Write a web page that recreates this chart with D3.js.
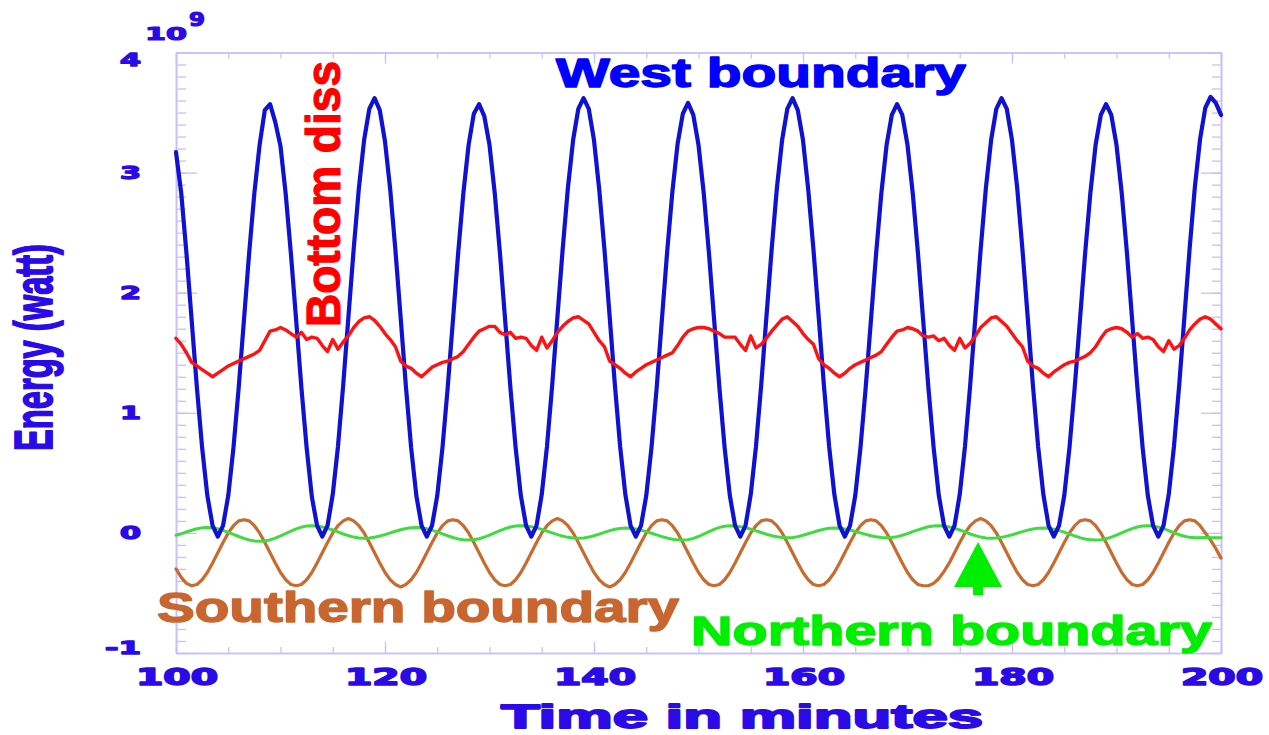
<!DOCTYPE html>
<html>
<head>
<meta charset="utf-8">
<script src="https://cdn.jsdelivr.net/npm/d3@7"></script>
<style>
  html, body { margin: 0; padding: 0; background: #fff; }
  svg { display: block; }
</style>
</head>
<body>
<svg id="chart" width="1269" height="735"></svg>
<script>
// Sampling grid: one sample every half minute from t = 100 to t = 200
const timeStart = 100;
const timeStep = 0.5;

// Energy flux through the west boundary (units of 1e9 W)
const westBoundary = [
  3.17, 2.83, 2.33, 1.77, 1.21, 0.71, 0.31, 0.06, -0.03,
  0.06, 0.31, 0.71, 1.21, 1.77, 2.33, 2.83, 3.23, 3.52, 3.57,
  3.42, 3.22, 2.82, 2.32, 1.77, 1.21, 0.71, 0.30, 0.06, -0.03,
  0.06, 0.32, 0.72, 1.23, 1.80, 2.36, 2.87, 3.27, 3.53, 3.62,
  3.52, 3.26, 2.86, 2.35, 1.79, 1.22, 0.71, 0.31, 0.06, -0.03,
  0.06, 0.31, 0.71, 1.21, 1.77, 2.33, 2.83, 3.23, 3.49, 3.57,
  3.47, 3.23, 2.83, 2.33, 1.77, 1.21, 0.71, 0.31, 0.06, -0.03,
  0.06, 0.32, 0.72, 1.23, 1.80, 2.36, 2.87, 3.27, 3.53, 3.62,
  3.53, 3.27, 2.86, 2.36, 1.80, 1.23, 0.72, 0.32, 0.06, -0.03,
  0.06, 0.31, 0.71, 1.21, 1.78, 2.34, 2.84, 3.24, 3.49, 3.58,
  3.48, 3.23, 2.83, 2.33, 1.77, 1.21, 0.71, 0.31, 0.06, -0.03,
  0.06, 0.32, 0.72, 1.23, 1.80, 2.36, 2.87, 3.27, 3.53, 3.62,
  3.52, 3.27, 2.86, 2.36, 1.80, 1.23, 0.72, 0.32, 0.06, -0.03,
  0.06, 0.31, 0.71, 1.21, 1.77, 2.33, 2.83, 3.23, 3.48, 3.57,
  3.48, 3.23, 2.83, 2.33, 1.77, 1.21, 0.71, 0.31, 0.06, -0.03,
  0.06, 0.32, 0.72, 1.23, 1.80, 2.36, 2.87, 3.27, 3.53, 3.62,
  3.53, 3.27, 2.87, 2.36, 1.80, 1.23, 0.72, 0.32, 0.06, -0.03,
  0.06, 0.31, 0.71, 1.21, 1.77, 2.33, 2.83, 3.23, 3.48, 3.57,
  3.48, 3.23, 2.83, 2.33, 1.77, 1.21, 0.71, 0.31, 0.06, -0.03,
  0.06, 0.32, 0.72, 1.23, 1.80, 2.37, 2.88, 3.28, 3.54, 3.63,
  3.58, 3.48
];

// Bottom dissipation
const bottomDiss = [
  1.62, 1.57, 1.50, 1.42, 1.39, 1.36, 1.33, 1.30, 1.33, 1.36,
  1.39, 1.41, 1.43, 1.45, 1.47, 1.49, 1.52, 1.60, 1.68, 1.69,
  1.71, 1.69, 1.66, 1.63, 1.67, 1.61, 1.63, 1.62, 1.56, 1.51,
  1.61, 1.53, 1.59, 1.64, 1.71, 1.76, 1.79, 1.80, 1.77, 1.72,
  1.66, 1.61, 1.55, 1.43, 1.39, 1.37, 1.33, 1.30, 1.34, 1.38,
  1.40, 1.42, 1.43, 1.45, 1.47, 1.51, 1.57, 1.63, 1.68, 1.70,
  1.72, 1.72, 1.67, 1.65, 1.67, 1.62, 1.63, 1.62, 1.56, 1.52,
  1.63, 1.54, 1.60, 1.67, 1.72, 1.76, 1.79, 1.80, 1.77, 1.74,
  1.67, 1.60, 1.55, 1.43, 1.40, 1.37, 1.33, 1.30, 1.34, 1.37,
  1.40, 1.42, 1.44, 1.46, 1.48, 1.50, 1.56, 1.63, 1.68, 1.70,
  1.71, 1.71, 1.70, 1.68, 1.66, 1.63, 1.63, 1.63, 1.57, 1.52,
  1.64, 1.54, 1.57, 1.62, 1.68, 1.73, 1.78, 1.80, 1.76, 1.72,
  1.66, 1.61, 1.57, 1.45, 1.40, 1.37, 1.33, 1.30, 1.33, 1.37,
  1.40, 1.42, 1.44, 1.46, 1.48, 1.51, 1.57, 1.63, 1.68, 1.69,
  1.71, 1.70, 1.68, 1.64, 1.63, 1.64, 1.60, 1.62, 1.56, 1.52,
  1.62, 1.54, 1.58, 1.64, 1.71, 1.75, 1.79, 1.80, 1.76, 1.72,
  1.66, 1.60, 1.55, 1.43, 1.39, 1.37, 1.33, 1.30, 1.34, 1.37,
  1.40, 1.42, 1.43, 1.45, 1.47, 1.50, 1.55, 1.62, 1.68, 1.70,
  1.71, 1.70, 1.67, 1.63, 1.66, 1.62, 1.63, 1.61, 1.55, 1.51,
  1.60, 1.53, 1.56, 1.62, 1.69, 1.74, 1.78, 1.80, 1.78, 1.74,
  1.70
];

// Flux through the southern boundary
const southernBoundary = [
  -0.30, -0.37, -0.42,
  -0.44, -0.43, -0.39, -0.33, -0.25, -0.165, -0.08, 0.00, 0.06, 0.10,
  0.11, 0.10, 0.06, 0.00, -0.08, -0.165, -0.25, -0.33, -0.39, -0.43,
  -0.44, -0.43, -0.39, -0.33, -0.25, -0.165, -0.08, 0.00, 0.06, 0.10,
  0.12, 0.10, 0.06, 0.00, -0.08, -0.165, -0.25, -0.33, -0.39, -0.43,
  -0.45, -0.43, -0.39, -0.33, -0.25, -0.165, -0.08, 0.00, 0.06, 0.10,
  0.11, 0.10, 0.06, 0.00, -0.08, -0.165, -0.25, -0.33, -0.39, -0.43,
  -0.44, -0.43, -0.39, -0.33, -0.25, -0.165, -0.08, 0.00, 0.06, 0.10,
  0.12, 0.10, 0.06, 0.00, -0.08, -0.165, -0.25, -0.33, -0.39, -0.43,
  -0.45, -0.43, -0.39, -0.33, -0.25, -0.165, -0.08, 0.00, 0.06, 0.10,
  0.11, 0.10, 0.06, 0.00, -0.08, -0.165, -0.25, -0.33, -0.39, -0.43,
  -0.44, -0.43, -0.39, -0.33, -0.25, -0.165, -0.08, 0.00, 0.06, 0.10,
  0.11, 0.10, 0.06, 0.00, -0.08, -0.165, -0.25, -0.33, -0.39, -0.43,
  -0.44, -0.43, -0.39, -0.33, -0.25, -0.165, -0.08, 0.00, 0.06, 0.10,
  0.11, 0.10, 0.06, 0.00, -0.08, -0.165, -0.25, -0.33, -0.39, -0.43,
  -0.44, -0.44, -0.42, -0.38, -0.32, -0.25, -0.165, -0.08, 0.00, 0.06,
  0.10, 0.12, 0.10, 0.06, 0.00, -0.08, -0.165, -0.25, -0.33, -0.39,
  -0.43, -0.44, -0.43, -0.39, -0.33, -0.25, -0.165, -0.08, 0.00, 0.06,
  0.10, 0.11, 0.10, 0.06, 0.00, -0.08, -0.165, -0.25, -0.33, -0.39,
  -0.43, -0.44, -0.43, -0.39, -0.33, -0.25, -0.165, -0.08, 0.00, 0.06,
  0.10, 0.11, 0.10, 0.06, 0.00, -0.06, -0.13, -0.21
];

// Flux through the northern boundary
const northernBoundary = [
  -0.020, -0.008, 0.008, 0.022, 0.034, 0.042, 0.045,
  0.042, 0.034, 0.021, 0.005, -0.012, -0.030, -0.046, -0.059, -0.067, -0.070,
  -0.067, -0.058, -0.043, -0.025, -0.005, 0.015, 0.033, 0.048, 0.057, 0.060,
  0.057, 0.050, 0.038, 0.024, 0.008, -0.009, -0.023, -0.035, -0.042, -0.045,
  -0.043, -0.036, -0.026, -0.014, 0.000, 0.014, 0.026, 0.036, 0.043, 0.045,
  0.042, 0.035, 0.023, 0.009, -0.008, -0.024, -0.038, -0.050, -0.057, -0.060,
  -0.057, -0.049, -0.035, -0.019, 0.000, 0.019, 0.035, 0.049, 0.057, 0.060,
  0.058, 0.052, 0.042, 0.029, 0.015, 0.000, -0.014, -0.027, -0.037, -0.043, -0.045,
  -0.042, -0.035, -0.024, -0.010, 0.005, 0.019, 0.030, 0.037, 0.040,
  0.038, 0.032, 0.023, 0.011, -0.003, -0.017, -0.031, -0.043, -0.052, -0.058, -0.060,
  -0.056, -0.046, -0.030, -0.010, 0.010, 0.030, 0.046, 0.056, 0.060,
  0.058, 0.052, 0.043, 0.031, 0.017, 0.003, -0.011, -0.023, -0.032, -0.038, -0.040,
  -0.038, -0.031, -0.020, -0.007, 0.007, 0.020, 0.031, 0.038, 0.040,
  0.038, 0.032, 0.024, 0.012, 0.000, -0.012, -0.024, -0.032, -0.038, -0.040,
  -0.038, -0.031, -0.019, -0.006, 0.010, 0.025, 0.039, 0.051, 0.058, 0.060,
  0.057, 0.050, 0.038, 0.024, 0.008, -0.009, -0.023, -0.035, -0.042, -0.045,
  -0.043, -0.037, -0.027, -0.016, -0.003, 0.011, 0.023, 0.032, 0.038, 0.040,
  0.038, 0.031, 0.019, 0.006, -0.010, -0.025, -0.039, -0.051, -0.058, -0.060,
  -0.057, -0.049, -0.035, -0.019, 0.000, 0.019, 0.035, 0.049, 0.057, 0.060,
  0.057, 0.048, 0.035, 0.019, 0.001, -0.015, -0.028, -0.037, -0.040,
  -0.040, -0.039, -0.040, -0.041, -0.040
];

// Axis ticks and labels
const xMajorTicks = [100, 120, 140, 160, 180, 200];
const xTickLabels = ["100", "120", "140", "160", "180", "200"];
const xMinorStep = 5;
const yMajorTicks = [-1, 0, 1, 2, 3, 4];
const yTickLabels = ["-1", "0", "1", "2", "3", "4"];
const yMinorStep = 0.1;

// Arrow marking the northern boundary curve (data units)
const arrowTip = { t: 176.75, e: -0.075 };
const arrowHeadBase = -0.45;
const arrowTail = -0.52;

// ---------------------------------------------------------------
const svg = d3.select("#chart");
svg.append("rect").attr("width", 1269).attr("height", 735).attr("fill", "#fff");

const plot = { left: 176, right: 1221, top: 52.5, bottom: 653 };
const x = d3.scaleLinear().domain([100, 200]).range([plot.left, plot.right]);
const y = d3.scaleLinear().domain([-1, 4]).range([plot.bottom, plot.top]);

const axisColor = "#c9c0fb";
const labelColor = "#2a0ae6";
const boldFont = "'Liberation Sans', Arial, sans-serif";
const digitFont = "'DejaVu Sans', sans-serif";

// Heavy lettering: fill plus a same-coloured outline
function heavy(sel, color, w) {
  return sel.attr("fill", color).attr("stroke", color)
    .attr("stroke-width", w).attr("stroke-linejoin", "round");
}

// Frame with inward ticks on all four sides
const xMinor = d3.range(100, 200 + 1e-9, xMinorStep);
const yMinor = d3.range(-1, 4 + 1e-9, yMinorStep).map(v => Math.round(v * 10) / 10);

function styleAxis(g) {
  g.selectAll("path").attr("stroke", axisColor).attr("stroke-width", 1.6);
  g.selectAll("line").attr("stroke", axisColor).attr("stroke-width", 1.3);
  g.selectAll("text").remove();
}

const axes = svg.append("g").attr("class", "axes");
[
  [d3.axisBottom(x).tickValues(xMinor).tickSize(-6), plot.bottom, "x"],
  [d3.axisBottom(x).tickValues(xMajorTicks).tickSize(-11), plot.bottom, "x"],
  [d3.axisTop(x).tickValues(xMinor).tickSize(-6), plot.top, "x"],
  [d3.axisTop(x).tickValues(xMajorTicks).tickSize(-11), plot.top, "x"],
  [d3.axisLeft(y).tickValues(yMinor).tickSize(-10), plot.left, "y"],
  [d3.axisLeft(y).tickValues(yMajorTicks).tickSize(-21), plot.left, "y"],
  [d3.axisRight(y).tickValues(yMinor).tickSize(-9), plot.right, "y"],
  [d3.axisRight(y).tickValues(yMajorTicks).tickSize(-20), plot.right, "y"]
].forEach(([axis, pos, dir]) => {
  axes.append("g")
    .attr("transform", dir === "x" ? `translate(0,${pos})` : `translate(${pos},0)`)
    .call(axis.tickFormat("").tickSizeOuter(0))
    .call(styleAxis);
});

// Series lines
const line = d3.line()
  .x((d, i) => x(timeStart + i * timeStep))
  .y(d => y(d));

const series = [
  { data: southernBoundary, color: "#c96a2e", width: 3.2 },
  { data: northernBoundary, color: "#3fdc3f", width: 3 },
  { data: westBoundary, color: "#0f12d2", width: 4.2 },
  { data: bottomDiss, color: "#ff1212", width: 3.4 }
];
svg.append("g").selectAll("path").data(series).join("path")
  .attr("d", s => line(s.data))
  .attr("fill", "none")
  .attr("stroke", s => s.color)
  .attr("stroke-width", s => s.width)
  .attr("stroke-linejoin", "round")
  .attr("stroke-linecap", "round");

// Tick labels
svg.append("g").selectAll("text").data(yMajorTicks).join("text")
  .attr("x", 141)
  .attr("y", d => {
    let p = y(d) + 6;
    if (d === 4) p += 7;
    if (d === -1) p -= 5;
    return p;
  })
  .attr("text-anchor", "end")
  .attr("font-family", digitFont)
  .attr("font-weight", "bold")
  .attr("font-size", 17)
  .call(heavy, labelColor, 1.3)
  .attr("textLength", (d, i) => yTickLabels[i].length === 1 ? 21 : 36)
  .attr("lengthAdjust", "spacingAndGlyphs")
  .text((d, i) => yTickLabels[i]);

svg.append("g").selectAll("text").data(xMajorTicks).join("text")
  .attr("x", d => x(d) - 40)
  .attr("y", 685)
  .attr("font-family", digitFont)
  .attr("font-weight", "bold")
  .attr("font-size", 23)
  .call(heavy, labelColor, 1.6)
  .attr("textLength", 82)
  .attr("lengthAdjust", "spacingAndGlyphs")
  .text((d, i) => xTickLabels[i]);

// Exponent of the energy axis
svg.append("text").attr("x", 145).attr("y", 40)
  .attr("font-family", digitFont).attr("font-weight", "bold").attr("font-size", 18)
  .call(heavy, labelColor, 1.2).attr("textLength", 42).attr("lengthAdjust", "spacingAndGlyphs")
  .text("10");
svg.append("text").attr("x", 189).attr("y", 26)
  .attr("font-family", digitFont).attr("font-weight", "bold").attr("font-size", 19)
  .call(heavy, labelColor, 1.2).attr("textLength", 16).attr("lengthAdjust", "spacingAndGlyphs")
  .text("9");

// Axis titles
svg.append("text").attr("x", 501).attr("y", 728)
  .attr("font-family", boldFont).attr("font-weight", "bold").attr("font-size", 34)
  .call(heavy, labelColor, 1.8).attr("textLength", 482).attr("lengthAdjust", "spacingAndGlyphs")
  .text("Time in minutes");

svg.append("text").attr("transform", "translate(52,451) rotate(-90)")
  .attr("font-family", boldFont).attr("font-weight", "bold").attr("font-size", 53)
  .call(heavy, labelColor, 1.8).attr("textLength", 207).attr("lengthAdjust", "spacingAndGlyphs")
  .text("Energy (watt)");

// Curve labels
svg.append("text").attr("x", 556).attr("y", 87)
  .attr("font-family", boldFont).attr("font-weight", "bold").attr("font-size", 40)
  .call(heavy, "#0000ff", 1.4).attr("textLength", 410).attr("lengthAdjust", "spacingAndGlyphs")
  .text("West boundary");

svg.append("text").attr("transform", "translate(340,327) rotate(-90)")
  .attr("font-family", boldFont).attr("font-weight", "bold").attr("font-size", 48)
  .call(heavy, "#ff0000", 1.2).attr("textLength", 266).attr("lengthAdjust", "spacingAndGlyphs")
  .text("Bottom diss");

svg.append("text").attr("x", 157).attr("y", 622)
  .attr("font-family", boldFont).attr("font-weight", "bold").attr("font-size", 42)
  .call(heavy, "#c96630", 1.4).attr("textLength", 522).attr("lengthAdjust", "spacingAndGlyphs")
  .text("Southern boundary");

svg.append("text").attr("x", 691).attr("y", 645)
  .attr("font-family", boldFont).attr("font-weight", "bold").attr("font-size", 41)
  .call(heavy, "#00ee00", 1.4).attr("textLength", 521).attr("lengthAdjust", "spacingAndGlyphs")
  .text("Northern boundary");

// Arrow pointing at the northern boundary curve
const ax = x(arrowTip.t);
const arrow = d3.path();
arrow.moveTo(ax, y(arrowTip.e));
arrow.lineTo(ax + 24, y(arrowHeadBase));
arrow.lineTo(ax + 5, y(arrowHeadBase));
arrow.lineTo(ax + 5, y(arrowTail));
arrow.lineTo(ax - 5, y(arrowTail));
arrow.lineTo(ax - 5, y(arrowHeadBase));
arrow.lineTo(ax - 24, y(arrowHeadBase));
arrow.closePath();
svg.append("path").attr("d", arrow.toString()).attr("fill", "#00ee00");
</script>
</body>
</html>
